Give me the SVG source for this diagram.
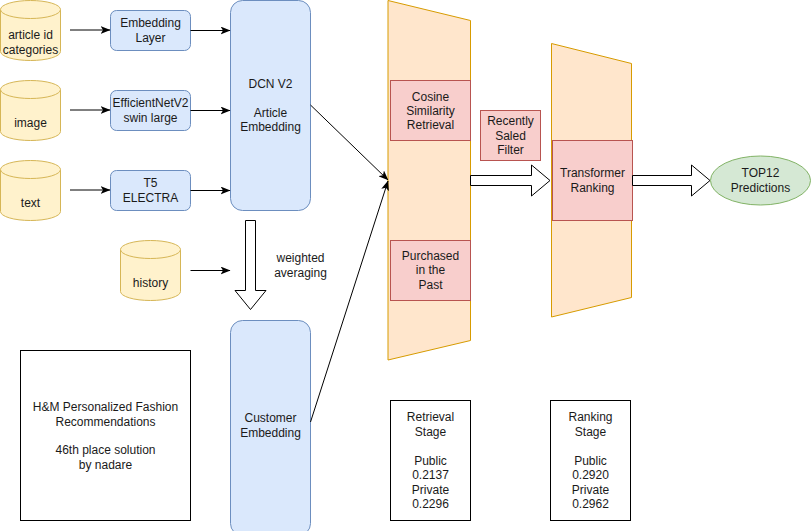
<svg xmlns="http://www.w3.org/2000/svg" width="811" height="531" viewBox="0 0 811 531">
<defs>
<style>
text{font-family:"Liberation Sans",Arial,sans-serif;font-size:12px;fill:#1a1a1a;text-anchor:middle}
.cyl{fill:#fff2cc;stroke:#d6b656;stroke-width:1}
.blue{fill:#dae8fc;stroke:#6c8ebf;stroke-width:1}
.trap{fill:#ffe6cc;stroke:#d79b00;stroke-width:1}
.red{fill:#f8cecc;stroke:#b85450;stroke-width:1}
.green{fill:#d5e8d4;stroke:#82b366;stroke-width:1}
.plain{fill:#ffffff;stroke:#000000;stroke-width:1}
.edge{fill:none;stroke:#000000;stroke-width:1}
.block{fill:#ffffff;stroke:#000000;stroke-width:1}
</style>
<marker id="arr" viewBox="0 0 10 8" refX="9.5" refY="4" markerWidth="10" markerHeight="8" markerUnits="userSpaceOnUse" orient="auto">
<path d="M0,0 L10,4 L0,8 L2.5,4 Z" fill="#000"/>
</marker>
</defs>

<g id="trap-retrieval"><polygon class="trap" points="388,0.5 470.5,20.5 470.5,340.5 388,360"/></g>
<g id="trap-ranking"><polygon class="trap" points="551.5,43.5 631.5,63.5 631.5,297.5 551.5,317"/></g>

<g id="cyl-article">
<path class="cyl" d="M0.5,9.5 A30,9 0 0 1 60.5,9.5 V51.5 A30,9 0 0 1 0.5,51.5 Z"/>
<path class="cyl" fill="none" d="M0.5,9.5 A30,9 0 0 0 60.5,9.5"/>
<text x="30.5" y="39">article id</text><text x="30.5" y="54">categories</text>
</g>
<g id="cyl-image">
<path class="cyl" d="M0.5,89.5 A30,9 0 0 1 60.5,89.5 V131.5 A30,9 0 0 1 0.5,131.5 Z"/>
<path class="cyl" fill="none" d="M0.5,89.5 A30,9 0 0 0 60.5,89.5"/>
<text x="30.5" y="127">image</text>
</g>
<g id="cyl-text">
<path class="cyl" d="M0.5,169.5 A30,9 0 0 1 60.5,169.5 V211.5 A30,9 0 0 1 0.5,211.5 Z"/>
<path class="cyl" fill="none" d="M0.5,169.5 A30,9 0 0 0 60.5,169.5"/>
<text x="30.5" y="206.5">text</text>
</g>
<g id="cyl-history">
<path class="cyl" d="M120.5,249.5 A30,9 0 0 1 180.5,249.5 V291.5 A30,9 0 0 1 120.5,291.5 Z"/>
<path class="cyl" fill="none" d="M120.5,249.5 A30,9 0 0 0 180.5,249.5"/>
<text x="150.5" y="287">history</text>
</g>

<g id="embedding-layer"><rect class="blue" x="110.5" y="10.5" width="80" height="40" rx="6"/>
<text x="150.5" y="27">Embedding</text><text x="150.5" y="41.5">Layer</text></g>
<g id="efficientnet"><rect class="blue" x="110.5" y="90.5" width="80" height="40" rx="6"/>
<text x="150.5" y="107">EfficientNetV2</text><text x="150.5" y="121.5">swin large</text></g>
<g id="t5"><rect class="blue" x="110.5" y="170.5" width="80" height="40" rx="6"/>
<text x="150.5" y="187">T5</text><text x="150.5" y="201.5">ELECTRA</text></g>

<g id="dcn"><rect class="blue" x="230.5" y="0.5" width="80" height="210" rx="12"/>
<text x="270.5" y="88">DCN V2</text><text x="270.5" y="117">Article</text><text x="270.5" y="131">Embedding</text></g>
<g id="customer"><rect class="blue" x="230.5" y="320.5" width="80" height="215" rx="12"/>
<text x="270.5" y="422">Customer</text><text x="270.5" y="436.5">Embedding</text></g>

<g id="title"><rect class="plain" x="20.5" y="350.5" width="170" height="170"/>
<text x="105.5" y="411">H&amp;M Personalized Fashion</text><text x="105.5" y="425.5">Recommendations</text>
<text x="105.5" y="454">46th place solution</text><text x="105.5" y="468.5">by nadare</text></g>

<g id="cosine"><rect class="red" x="390.5" y="80.5" width="80" height="60"/>
<text x="430.5" y="100.5">Cosine</text><text x="430.5" y="114.5">Similarity</text><text x="430.5" y="129">Retrieval</text></g>
<g id="purchased"><rect class="red" x="390.5" y="240.5" width="80" height="60"/>
<text x="430.5" y="260">Purchased</text><text x="430.5" y="274">in the</text><text x="430.5" y="288.5">Past</text></g>
<g id="filter"><rect class="red" x="480.5" y="110.5" width="60" height="50"/>
<text x="510.5" y="125">Recently</text><text x="510.5" y="139.5">Saled</text><text x="510.5" y="154">Filter</text></g>
<g id="transformer"><rect class="red" x="552.5" y="140.5" width="80" height="80"/>
<text x="592.5" y="177">Transformer</text><text x="592.5" y="191.5">Ranking</text></g>

<g id="top12"><ellipse class="green" cx="760.5" cy="180.5" rx="50" ry="24.5"/>
<text x="760.5" y="177">TOP12</text><text x="760.5" y="191.5">Predictions</text></g>

<g id="retrieval-stage"><rect class="plain" x="390.5" y="400.5" width="80" height="120"/>
<text x="430.5" y="421">Retrieval</text><text x="430.5" y="436">Stage</text>
<text x="430.5" y="464.5">Public</text><text x="430.5" y="479">0.2137</text><text x="430.5" y="493.5">Private</text><text x="430.5" y="508">0.2296</text></g>
<g id="ranking-stage"><rect class="plain" x="550.5" y="400.5" width="80" height="120"/>
<text x="590.5" y="421">Ranking</text><text x="590.5" y="436">Stage</text>
<text x="590.5" y="464.5">Public</text><text x="590.5" y="479">0.2920</text><text x="590.5" y="493.5">Private</text><text x="590.5" y="508">0.2962</text></g>

<g id="weighted-label"><text x="300.5" y="262">weighted</text><text x="300.5" y="277">averaging</text></g>

<g id="connectors">
<line class="edge" x1="70" y1="30" x2="110" y2="30" marker-end="url(#arr)"/>
<line class="edge" x1="70" y1="110" x2="110" y2="110" marker-end="url(#arr)"/>
<line class="edge" x1="70" y1="190" x2="110" y2="190" marker-end="url(#arr)"/>
<line class="edge" x1="190.5" y1="30.5" x2="230" y2="30.5" marker-end="url(#arr)"/>
<line class="edge" x1="190.5" y1="110.5" x2="230" y2="110.5" marker-end="url(#arr)"/>
<line class="edge" x1="190.5" y1="190.5" x2="230" y2="190.5" marker-end="url(#arr)"/>
<line class="edge" x1="190.5" y1="270.5" x2="230" y2="270.5" marker-end="url(#arr)"/>
<line class="edge" x1="310.5" y1="105" x2="388" y2="180" marker-end="url(#arr)"/>
<line class="edge" x1="310.5" y1="422" x2="388" y2="181" marker-end="url(#arr)"/>
<polygon class="block" points="245.5,220.5 255.5,220.5 255.5,290.5 266,290.5 250.5,309.5 235,290.5 245.5,290.5"/>
<polygon class="block" points="470.5,175.5 531.5,175.5 531.5,165 550,180.5 531.5,196 531.5,185.5 470.5,185.5"/>
<polygon class="block" points="632.5,175.5 691.5,175.5 691.5,165 710,180.5 691.5,196 691.5,185.5 632.5,185.5"/>
</g>
</svg>
